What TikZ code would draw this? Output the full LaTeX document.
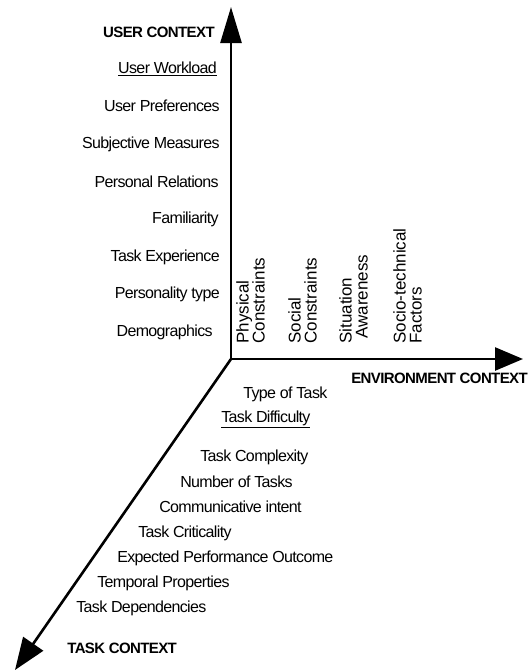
\documentclass[tikz,border=0pt]{standalone}
\usepackage{fontspec}
\setmainfont{Liberation Sans}
\newfontfamily\tightfont[LetterSpace=-4]{Liberation Sans}
\usetikzlibrary{arrows.meta,calc,positioning}

\begin{document}
\begin{tikzpicture}[x=1pt,y=-1pt,line width=2.6pt]
\tikzstyle{item}=[inner sep=0pt,font=\tightfont\fontsize{16}{18}\selectfont]
\tikzstyle{title}=[inner sep=0pt,font=\tightfont\fontsize{15}{18}\selectfont\bfseries]
\tikzstyle{env}=[rotate=90,anchor=north west,inner sep=0pt,align=left,font=\fontsize{17}{16}\selectfont]
\useasboundingbox (0,0) rectangle (531,670);

\coordinate (origin) at (231,359);
\coordinate (usertip) at (231,7);
\coordinate (envtip) at (523,359);
\coordinate (tasktip) at (15,670);

% the three axes
\draw[-{Triangle[length=36pt,width=21pt]}] (origin) -- (usertip);
\draw[-{Triangle[length=28pt,width=23pt]}] (origin) -- (envtip);
\draw[-{Triangle[length=32pt,width=24pt]}] (origin) -- (tasktip);

% user context
\node[title,anchor=east] (user) at (216,32) {USER CONTEXT};
\foreach \y/\x/\txt [count=\i] in {69/218/\underline{User Workload},106/221/User Preferences,
    144/221/Subjective Measures,182/220/Personal Relations,219/220/Familiarity,
    257/221/Task Experience,294/221/Personality type,332/214/Demographics}
  \node[item,anchor=east] (user\i) at (\x,\y) {\txt};

% environment context
\node[env] (physical) at (235,345) {Physical\\Constraints};
\node[env] (social) at (287,345) {Social\\Constraints};
\node[env] (situation) at (338,345) {Situation\\\hspace*{5pt}Awareness};
\node[env] (sociotech) at (392,345) {Socio-technical\\Factors};
\node[title,anchor=west] (env) at (350,378) {ENVIRONMENT CONTEXT};

% task context
\foreach \y/\x/\txt [count=\i] in {394/242/Type of Task,419/220/\underline{Task Difficulty},
    457/199/Task Complexity,482/179/Number of Tasks,507/158/Communicative intent,
    533/137/Task Criticality,558/116/Expected Performance Outcome,
    583/96/Temporal Properties,608/75/Task Dependencies}
  \node[item,anchor=west] (task\i) at (\x,\y) {\txt};
\node[title,anchor=west] (task) at (66,648) {TASK CONTEXT};
\end{tikzpicture}
\end{document}
